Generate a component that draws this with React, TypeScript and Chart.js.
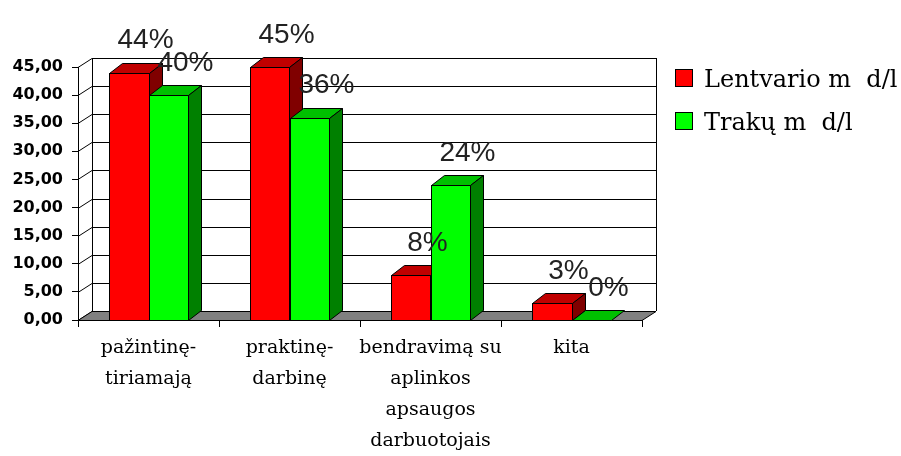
import React, { useEffect, useRef } from "react";
import { Chart, registerables } from "chart.js";

Chart.register(...registerables);

const categories: string[][] = [
  ["pažintinę-", "tiriamają"],
  ["praktinę-", "darbinę"],
  ["bendravimą su", "aplinkos", "apsaugos", "darbuotojais"],
  ["kita"],
];
const seriesNames = ["Lentvario m  d/l", "Trakų m  d/l"];
const lentvario = [44, 45, 8, 3];
const traku = [40, 36, 24, 0];
const yMin = 0;
const yMax = 45;
const yStep = 5;

const FRONT = ["#ff0000", "#00ff00"];
const TOP = ["#c00000", "#00c000"];
const SIDE = ["#800000", "#008000"];

const WALL_DX = 14;
const WALL_DY = -9;
const BAR_DX = 13;
const BAR_DY = -10;

const threeD = {
  id: "threeD",
  beforeDatasetsDraw(chart: any) {
    const { ctx, chartArea } = chart;
    const y = chart.scales.y;
    const { left, right, bottom } = chartArea;
    const top = y.getPixelForValue(yMax);
    ctx.save();
    ctx.lineWidth = 1;
    ctx.strokeStyle = "#000";
    // back wall
    ctx.fillStyle = "#fff";
    ctx.fillRect(left + WALL_DX, top + WALL_DY, right - left, bottom - top);
    ctx.beginPath();
    for (let v = yMin; v <= yMax; v += yStep) {
      const py = Math.round(y.getPixelForValue(v)) + 0.5;
      ctx.moveTo(left + WALL_DX, py + WALL_DY);
      ctx.lineTo(right + WALL_DX, py + WALL_DY);
      ctx.moveTo(left, py);
      ctx.lineTo(left + WALL_DX, py + WALL_DY);
    }
    ctx.moveTo(left + WALL_DX + 0.5, top + WALL_DY);
    ctx.lineTo(left + WALL_DX + 0.5, bottom + WALL_DY);
    ctx.moveTo(right + WALL_DX + 0.5, top + WALL_DY);
    ctx.lineTo(right + WALL_DX + 0.5, bottom + WALL_DY);
    ctx.stroke();
    // floor
    ctx.beginPath();
    ctx.moveTo(left, bottom + 0.5);
    ctx.lineTo(right, bottom + 0.5);
    ctx.lineTo(right + WALL_DX, bottom + WALL_DY + 0.5);
    ctx.lineTo(left + WALL_DX, bottom + WALL_DY + 0.5);
    ctx.closePath();
    ctx.fillStyle = "#808080";
    ctx.fill();
    ctx.stroke();
    ctx.restore();
  },
  afterDatasetsDraw(chart: any) {
    const { ctx } = chart;
    const metas = chart.data.datasets.map((_: any, di: number) => chart.getDatasetMeta(di));
    const n = chart.data.labels.length;
    ctx.save();
    ctx.lineWidth = 1;
    ctx.strokeStyle = "#000";
    for (let i = 0; i < n; i++) {
      metas.forEach((meta: any, di: number) => {
        const el = meta.data[i];
        if (!el) return;
        const { x, y, base, width } = el.getProps(["x", "y", "base", "width"], true);
        const l = Math.round(x - width / 2) + 0.5;
        const r = Math.round(x + width / 2) + 0.5;
        const t = Math.round(y) + 0.5;
        const b = Math.round(base) + 0.5;
        // front
        if (b - t > 0.5) {
          ctx.fillStyle = FRONT[di];
          ctx.fillRect(l, t, r - l, b - t);
          ctx.strokeRect(l, t, r - l, b - t);
        }
        // top
        ctx.beginPath();
        ctx.moveTo(l, t);
        ctx.lineTo(l + BAR_DX, t + BAR_DY);
        ctx.lineTo(r + BAR_DX, t + BAR_DY);
        ctx.lineTo(r, t);
        ctx.closePath();
        ctx.fillStyle = TOP[di];
        ctx.fill();
        ctx.stroke();
        // side
        if (b - t > 0.5) {
          ctx.beginPath();
          ctx.moveTo(r, t);
          ctx.lineTo(r + BAR_DX, t + BAR_DY);
          ctx.lineTo(r + BAR_DX, b + BAR_DY);
          ctx.lineTo(r, b);
          ctx.closePath();
          ctx.fillStyle = SIDE[di];
          ctx.fill();
          ctx.stroke();
        }
      });
    }
    ctx.restore();
  },
  afterDraw(chart: any) {
    const { ctx } = chart;
    ctx.save();
    // value labels
    ctx.font = "28px 'Liberation Sans', Arial, sans-serif";
    ctx.fillStyle = "#222";
    ctx.textAlign = "center";
    ctx.textBaseline = "middle";
    chart.data.datasets.forEach((ds: any, di: number) => {
      const meta = chart.getDatasetMeta(di);
      meta.data.forEach((el: any, i: number) => {
        const { x, y } = el.getProps(["x", "y"], true);
        ctx.fillText(`${ds.data[i]}%`, x + 17, y - 32);
      });
    });
    // legend
    ctx.font = "24px 'DejaVu Serif', serif";
    ctx.textAlign = "left";
    ctx.textBaseline = "alphabetic";
    const lx = 675;
    const ly = [69, 112];
    chart.data.datasets.forEach((ds: any, di: number) => {
      ctx.fillStyle = FRONT[di];
      ctx.fillRect(lx, ly[di], 18, 18);
      ctx.strokeStyle = "#000";
      ctx.lineWidth = 1;
      ctx.strokeRect(lx + 0.5, ly[di] + 0.5, 17, 17);
      ctx.fillStyle = "#000";
      ctx.fillText(ds.label, lx + 29, ly[di] + 18);
    });
    ctx.restore();
  },
};

export default function App() {
  const ref = useRef<HTMLCanvasElement | null>(null);
  useEffect(() => {
    if (!ref.current) return;
    const chart = new Chart(ref.current, {
      type: "bar",
      data: {
        labels: categories,
        datasets: [
          {
            label: seriesNames[0],
            data: lentvario,
            backgroundColor: "rgba(0,0,0,0)",
            borderWidth: 0,
          },
          {
            label: seriesNames[1],
            data: traku,
            backgroundColor: "rgba(0,0,0,0)",
            borderWidth: 0,
          },
        ],
      },
      options: {
        responsive: false,
        animation: false,
        devicePixelRatio: 1,
        layout: { padding: { top: 67, right: 259, left: 0, bottom: 0 } },
        datasets: { bar: { categoryPercentage: 0.567, barPercentage: 1 } },
        plugins: {
          legend: { display: false },
          tooltip: { enabled: false },
        },
        scales: {
          x: {
            offset: true,
            grid: {
              offset: true,
              drawOnChartArea: false,
              drawTicks: true,
              tickLength: 7,
              color: "#000",
            },
            border: { display: true, color: "#000" },
            ticks: {
              color: "#000",
              padding: 6,
              maxRotation: 0,
              autoSkip: false,
              font: { family: "'DejaVu Serif', serif", size: 19, lineHeight: "31px" },
            },
            afterFit(scale: any) {
              scale.height = 136;
            },
          },
          y: {
            min: yMin,
            max: yMax,
            ticks: {
              stepSize: yStep,
              color: "#000",
              padding: 9,
              font: { family: "'DejaVu Sans', sans-serif", size: 16, weight: "bold" },
              callback: (v: any) => Number(v).toFixed(2).replace(".", ","),
            },
            grid: {
              drawOnChartArea: false,
              drawTicks: true,
              tickLength: 6,
              color: "#000",
            },
            border: { display: true, color: "#000" },
            afterFit(scale: any) {
              scale.width = 78;
            },
          },
        },
      },
      plugins: [threeD],
    });
    return () => chart.destroy();
  }, []);
  return (
    <div style={{ position: "absolute", left: 0, top: 0, width: 901, height: 456, background: "#fff" }}>
      <canvas ref={ref} width={901} height={456} style={{ width: 901, height: 456, display: "block" }} />
    </div>
  );
}
